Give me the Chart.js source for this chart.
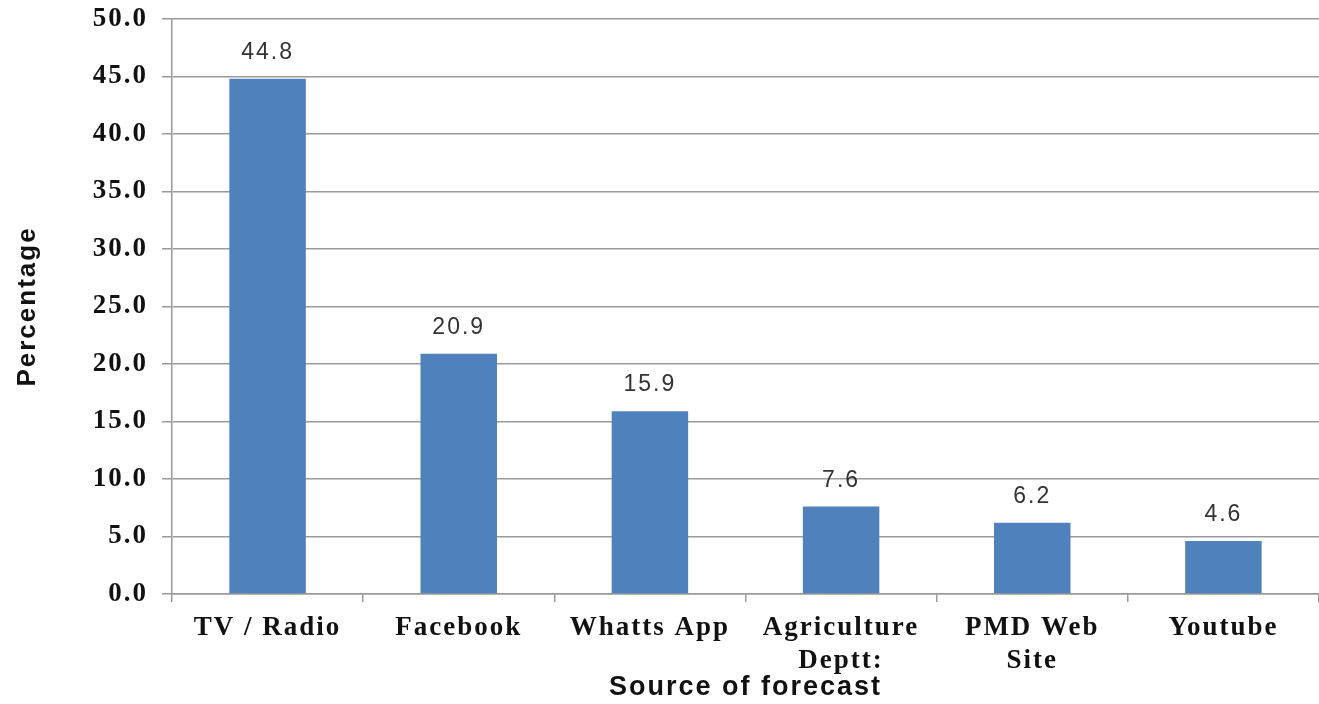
<!DOCTYPE html>
<html>
<head>
<meta charset="utf-8">
<title>Source of forecast</title>
<script src="https://cdn.jsdelivr.net/npm/chart.js@4.4.1/dist/chart.umd.min.js"></script>
<style>
    html, body { margin: 0; padding: 0; background: #ffffff; }
    #chart { display: block; }
</style>
</head>
<body>
<canvas id="chart" width="1319" height="704"></canvas>
<script>
// Data
var SOURCES = ['TV / Radio', 'Facebook', 'Whatts App', ['Agriculture', 'Deptt:'], ['PMD Web', 'Site'], 'Youtube'];
var PERCENTAGES = [44.8, 20.9, 15.9, 7.6, 6.2, 4.6];
var Y_MAX = 50;
var Y_STEP = 5;

var BAR_COLOUR = '#4f81bd';
var GRID_COLOUR = '#9a9a9a';

// the original looks stretched sideways, so space the letters out a bit
var spacingPlugin = {
    id: 'spacing',
    beforeUpdate: function (chart) { chart.ctx.letterSpacing = '2px'; },
    beforeDraw: function (chart) { chart.ctx.letterSpacing = '2px'; }
};

// value above every bar
var valueLabels = {
    id: 'valueLabels',
    afterDatasetsDraw: function (chart) {
        var ctx = chart.ctx;
        var meta = chart.getDatasetMeta(0);
        ctx.save();
        ctx.font = '23px "Liberation Sans", Arial, sans-serif';
        ctx.fillStyle = '#333333';
        ctx.textAlign = 'center';
        ctx.textBaseline = 'alphabetic';
        meta.data.forEach(function (bar, i) {
            ctx.fillText(PERCENTAGES[i].toFixed(1), bar.x, bar.y - 20);
        });
        ctx.restore();
    }
};

var chart = new Chart(document.getElementById('chart'), {
    type: 'bar',
    data: {
        labels: SOURCES,
        datasets: [{
            data: PERCENTAGES,
            backgroundColor: BAR_COLOUR,
            barPercentage: 0.40,
            categoryPercentage: 1.0
        }]
    },
    options: {
        responsive: false,
        animation: false,
        layout: { padding: { top: 19, right: 0, bottom: 0, left: 0 } },
        plugins: {
            legend: { display: false },
            tooltip: { enabled: false }
        },
        scales: {
            x: {
                offset: true,
                border: { color: GRID_COLOUR, width: 1.5 },
                grid: { offset: true, drawOnChartArea: false, drawTicks: true, tickLength: 8, color: GRID_COLOUR, lineWidth: 1.5 },
                ticks: {
                    color: '#111111',
                    maxRotation: 0,
                    autoSkip: false,
                    padding: 10,
                    font: { family: '"Liberation Serif", "Times New Roman", serif', size: 27, weight: 'bold', lineHeight: 1.2 }
                },
                title: {
                    display: true,
                    text: 'Source of forecast',
                    color: '#111111',
                    padding: { top: 0, bottom: 0 },
                    font: { family: '"Liberation Sans", Arial, sans-serif', size: 27, weight: 'bold' }
                },
                afterFit: function (scale) { scale.height = 110; }
            },
            y: {
                min: 0,
                max: Y_MAX,
                border: { color: GRID_COLOUR, width: 1.5 },
                grid: { color: GRID_COLOUR, lineWidth: 1.5, tickLength: 10 },
                ticks: {
                    stepSize: Y_STEP,
                    color: '#111111',
                    padding: 14,
                    font: { family: '"Liberation Serif", "Times New Roman", serif', size: 27, weight: 'bold' },
                    callback: function (value) { return value.toFixed(1); }
                },
                title: {
                    display: true,
                    text: 'Percentage',
                    color: '#111111',
                    padding: { top: 12, bottom: 0 },
                    font: { family: '"Liberation Sans", Arial, sans-serif', size: 26, weight: 'bold' }
                },
                afterFit: function (scale) {
                    scale.width = 172;
                    scale.paddingTop = 0;   // let the layout padding decide where the top line sits
                    scale.paddingBottom = 0;
                }
            }
        }
    },
    plugins: [spacingPlugin, valueLabels]
});
</script>
</body>
</html>
